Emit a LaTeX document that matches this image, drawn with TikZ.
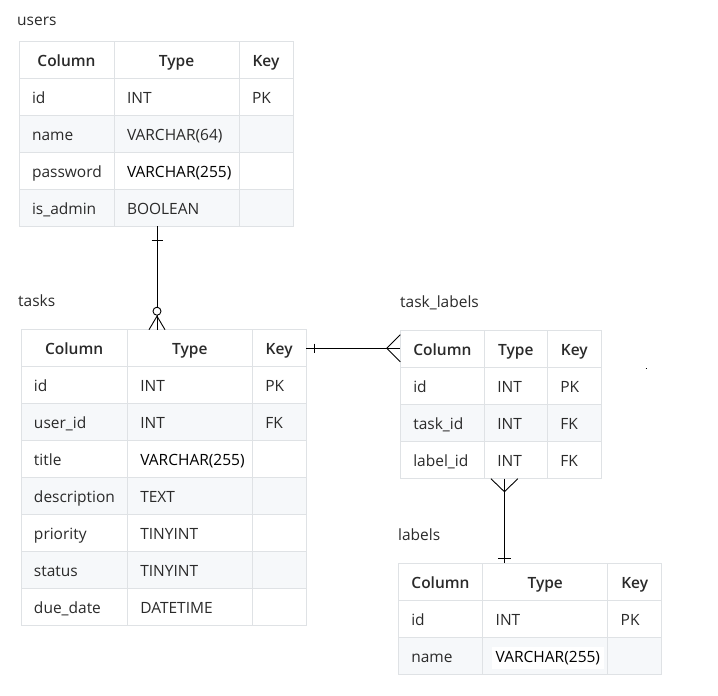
\documentclass[tikz,border=0pt]{standalone}
\usepackage{fontspec}
\setmainfont{Open Sans}[BoldFont={Open Sans Semibold}]
\usetikzlibrary{calc}
\definecolor{gridc}{HTML}{DFE2E5}
\definecolor{rowg}{HTML}{F6F8FA}
\definecolor{txt}{HTML}{2A2A2A}
\newcommand\fs{\fontsize{15.5}{18}\selectfont}
\newcommand\vc{{\color{black}VARCHAR(255)}}
\newcommand\vcw{\hspace*{-4pt}{\fboxsep=4pt\colorbox{white}{\color{black}VARCHAR(255)}}}
\newcommand\nokey{}
\tikzset{
  cellb/.style={inner xsep=13pt, inner ysep=0pt, outer sep=0pt, text height=13pt, text depth=0pt,
    minimum height=37pt, anchor=north west, text=txt},
  hd/.style={cellb, font=\fs\bfseries, align=center},
  bd/.style={cellb, font=\fs, align=left},
  gridl/.style={draw=gridc, line width=1pt},
  ttl/.style={font=\fs, text=txt, anchor=base west, inner sep=0pt},
  rel/.style={draw=black, line width=0.9pt},
}
\newcommand\erdtable[8]{%
  \pgfmathsetmacro\wa{#3-#2}\pgfmathsetmacro\wb{#4-#3}\pgfmathsetmacro\wc{#5-#4}%
  \pgfmathsetmacro\ta{#3-#2-26}\pgfmathsetmacro\tb{#4-#3-26}\pgfmathsetmacro\tc{#5-#4-26}%
  \pgfmathsetmacro\yb{#6+37*(#7+1)}%
  \pgfmathsetmacro\tw{#5-#2}\pgfmathsetmacro\th{37*(#7+1)}%
  \node[hd, fill=white, minimum width=\wa pt, text width=\ta pt] (#1-0-a) at (#2,#6) {Column};
  \node[hd, fill=white, minimum width=\wb pt, text width=\tb pt] (#1-0-b) at (#3,#6) {Type};
  \node[hd, fill=white, minimum width=\wc pt, text width=\tc pt] (#1-0-c) at (#4,#6) {Key};
  \foreach \ca/\cb/\cc [count=\i from 1] in {#8} {
    \pgfmathsetmacro\yy{#6+37*\i}
    \ifodd\i \def\fc{white}\else\def\fc{rowg}\fi
    \node[bd, fill=\fc, minimum width=\wa pt, text width=\ta pt] (#1-\i-a) at (#2,\yy) {\ca};
    \node[bd, fill=\fc, minimum width=\wb pt, text width=\tb pt] (#1-\i-b) at (#3,\yy) {\cb};
    \node[bd, fill=\fc, minimum width=\wc pt, text width=\tc pt] (#1-\i-c) at (#4,\yy) {\cc};
  }
  \draw[gridl] (#2,#6) rectangle (#5,\yb);
  \draw[gridl] (#3,#6) -- (#3,\yb) (#4,#6) -- (#4,\yb);
  \foreach \k in {1,...,#7} {\draw[gridl] (#2,{#6+37*\k}) -- (#5,{#6+37*\k});}
  \node[inner sep=0pt, outer sep=0pt, minimum width=\tw pt, minimum height=\th pt, anchor=north west] (#1) at (#2,#6) {};
}
\begin{document}
\begin{tikzpicture}[x=1pt,y=-1pt]
\fill[white] (0,0) rectangle (718,696);
\useasboundingbox (0,0) rectangle (718,696);

\node[ttl] (users-title) at (17,25) {users};
\erdtable{users}{19}{114}{239}{293}{41}{4}{id/INT/PK, name/VARCHAR(64)/\nokey, password/\vc/\nokey, is\_admin/BOOLEAN/\nokey}

\node[ttl] (tasks-title) at (18,306.7) {tasks};
\erdtable{tasks}{21}{127.3}{252.3}{306}{329.7}{7}{id/INT/PK, user\_id/INT/FK, title/\vc/\nokey, description/TEXT/\nokey, priority/TINYINT/\nokey, status/TINYINT/\nokey, due\_date/DATETIME/\nokey}

\node[ttl] (tl-title) at (400,307.3) {task\_labels};
\erdtable{tl}{400.3}{484.3}{547.3}{601.3}{330.7}{3}{id/INT/PK, task\_id/INT/FK, label\_id/INT/FK}

\node[ttl] (labels-title) at (398,540.7) {labels};
\erdtable{labels}{398.3}{482.7}{607.7}{661.7}{563.3}{2}{id/INT/PK, name/\vcw/\nokey}

% users -> tasks (one to zero-or-many)
\path ($(users.south)+(1,0)$) coordinate (ua);
\path (ua |- tasks.north) coordinate (ub);
\draw[rel] (ua) -- ($(ub)+(0,-22.5)$);
\draw[rel] ($(ua)+(-5.5,14)$) -- ($(ua)+(5.5,14)$);
\draw[rel] ($(ub)+(0,-14.5)$) -- (ub);
\draw[rel] ($(ub)+(-8,0)$) -- ($(ub)+(0,-13.5)$) -- ($(ub)+(8,0)$);
\draw[rel, fill=white] ($(ub)+(0,-18.5)$) circle [radius=4pt];

% tasks -> task_labels (one to many)
\path (tasks-0-c.east) coordinate (ta) (tasks-0-c.east -| tl.west) coordinate (tb);
\draw[rel] (ta) -- (tb);
\draw[rel] ($(ta)+(8,-4.5)$) -- ($(ta)+(8,4.5)$);
\draw[rel] ($(tb)+(0,-13.5)$) -- ($(tb)+(-13.5,0)$) -- ($(tb)+(0,13.5)$);

% task_labels -> labels (many to one)
\path ($(tl.south)+(3.6,0)$) coordinate (la);
\path (la |- labels.north) coordinate (lb);
\draw[rel] (la) -- (lb);
\draw[rel] ($(la)+(-13.5,0)$) -- ($(la)+(0,13)$) -- ($(la)+(13.5,0)$);
\draw[rel] ($(lb)+(-6.5,-5)$) -- ($(lb)+(6.5,-5)$);

% stray mark
\coordinate (dot) at (645.5,368);
\draw[black, line width=1pt] (dot) -- ++(1.5,0);
\end{tikzpicture}
\end{document}
